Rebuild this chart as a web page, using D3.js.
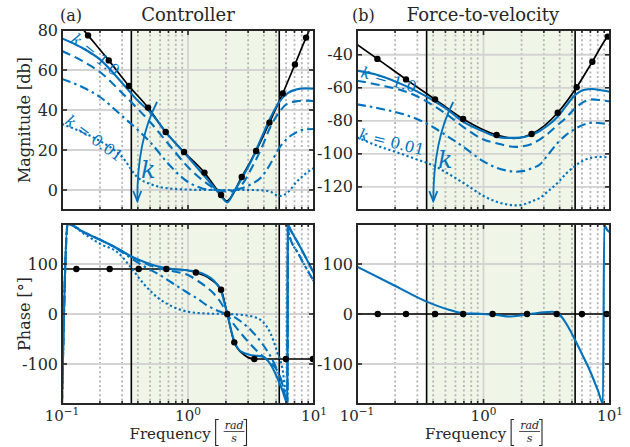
<!DOCTYPE html>
<html>
<head>
<meta charset="utf-8">
<title>Controller / force-to-velocity Bode plots</title>
<script src="https://cdn.jsdelivr.net/npm/d3@7/dist/d3.min.js"></script>
<style>
  body { margin: 0; background: #fff; }
  svg text { font-family: "DejaVu Serif", serif; fill: #262626; }
</style>
</head>
<body>
<script>
// ---- values ----
var bandLo = 0.355, bandHi = 5.3;   // shaded band [rad/s]

// (a) controller magnitude [db] for k = 1.0, two middle gains, k = 0.01
var ctrlMagF  = [0.1, 0.15, 0.2, 0.3, 0.4, 0.5, 0.7, 1.0, 1.3, 1.6, 1.8, 2.05, 2.3, 2.7, 3.2, 3.9, 4.5, 5.3, 6.2, 7.2, 8.5, 10];
var ctrlMagK1 = [75.8, 70.5, 65.3, 53.5, 44.6, 39, 27.3, 16.5, 8.2, 1.5, -2.5, -6.2, -1.2, 6.3, 15, 27.3, 36, 44, 48.5, 50.2, 50.8, 50.7];
var ctrlMagK2 = [69.5, 64, 59, 48.5, 40.5, 34, 23, 11.5, 5, 1, -0.3, -0.8, -0.5, 3, 11, 22, 31.5, 39, 43.3, 44.3, 44.7, 44.5];
var ctrlMagK3 = [55.5, 51, 46.5, 37, 30, 24, 13, 4, 0.8, 0, -0.2, -0.3, 0, 1, 3, 7, 13, 21, 26, 28.7, 30.3, 30.5];
var ctrlMagK4 = [33, 28.5, 24.5, 16.5, 6.2, 3, 0.8, 0.2, 0, 0, 0, 0, 0, 0, 0, -0.2, -0.8, -3, -1.2, 3.7, 8, 11];

// (a) reference (black) magnitude and which points carry a marker
var ctrlRefF    = [0.1, 0.161, 0.235, 0.34, 0.482, 0.665, 0.93, 1.35, 1.83, 2.02, 2.67, 3.47, 4.43, 5.65, 7.06, 8.65, 10];
var ctrlRefDb   = [93, 77.3, 64.8, 52, 41.2, 29, 19, 8.7, -2.5, -5.5, 6.5, 19.5, 33.7, 48.3, 62.8, 76.2, 85];
var ctrlRefDots = [1, 2, 3, 4, 5, 6, 7, 8, 10, 11, 12, 13, 14, 15];

// (a) controller phase [deg]
var ctrlPhF  = [0.1, 0.111, 0.15, 0.2, 0.28, 0.355, 0.45, 0.58, 0.75, 1.0, 1.2, 1.4, 1.6, 1.83, 2.05, 2.3, 2.6, 3.2, 3.9, 4.5, 5.1, 5.6, 6.15, 6.2, 6.3, 7.6, 10];
var ctrlPhK1 = [-178, 180, 163, 148.7, 130, 115, 104, 95, 90, 87, 84, 77, 67, 45, 0, -50, -74, -82.5, -85, -100, -127, -152, -178, 180, 176, 138.7, 81];
var ctrlPhK2 = [-178, 180, 163, 148.7, 130, 114.5, 102, 92, 86, 78, 66, 54, 41, 22, 0, -20, -37, -63, -84, -97, -113, -138, -178, 180, 176, 138.7, 81];
var ctrlPhK3 = [-178, 180, 163, 148.5, 129, 111, 95, 80, 62, 42, 30, 18, 10, 4, 0, -5, -14, -34, -60, -84, -112, -140, -176, 178, 162, 118.7, 65];
var ctrlPhK4 = [-178, 180, 160, 140.5, 122, 92, 59, 32, 15, 4.5, 2, 1, 0.5, 0.3, 0, -0.5, -1.5, -4.7, -15, -38, -75, -108, -175, 178, 162, 118.7, 65];

var ctrlRefPhF    = [0.1, 0.13, 0.239, 0.406, 0.673, 0.9, 1.155, 1.5, 1.83, 2.05, 2.33, 2.8, 3.36, 5.99, 9.8, 10];
var ctrlRefPh     = [90, 90, 90, 90, 90, 89, 83, 70, 48.7, 0, -56.7, -82, -90, -90, -90, -90];
var ctrlRefPhDots = [1, 2, 3, 4, 6, 8, 9, 10, 12, 13, 14];

// (b) force-to-velocity magnitude [db]
var plantMagF  = [0.1, 0.15, 0.244, 0.3, 0.414, 0.5, 0.69, 1.0, 1.27, 1.5, 1.8, 2.1, 2.4, 2.8, 3.2, 3.86, 4.5, 5.2, 6.2, 7.2, 8.5, 10];
var plantMagK1 = [-49.6, -52.5, -59, -62.3, -68.3, -72.3, -80.5, -86.5, -89.6, -90.3, -90.3, -89.8, -88.5, -86, -83, -77.5, -71, -65, -61.3, -60.7, -61.5, -62.4];
var plantMagK2 = [-55.7, -58.3, -62.4, -65.3, -71.4, -75.5, -83.6, -91.3, -93.6, -95, -95.8, -95.3, -94, -91.2, -88, -82.5, -78, -73, -68.5, -67, -67.5, -68.3];
var plantMagK3 = [-70, -72.5, -76.5, -79, -84.5, -88.5, -95.7, -104.5, -108.5, -110, -110.8, -110.3, -108.8, -106.3, -101, -93.3, -88.5, -85.2, -82.3, -81.1, -81.5, -82.3];
var plantMagK4 = [-90, -95.5, -101, -103.5, -107.5, -111, -117.5, -125.5, -129, -130.5, -131.2, -130.5, -128.8, -126.6, -123, -117.5, -112, -107.8, -104, -102.3, -101.8, -102.3];

var plantRefF    = [0.1, 0.145, 0.244, 0.414, 0.69, 1.27, 1.75, 2.4, 3.86, 5.45, 7.25, 9.6, 10];
var plantRefDb   = [-33.8, -42.5, -54.9, -67, -78.9, -88.6, -90.6, -88, -75.1, -59.7, -44.2, -29, -27.6];
var plantRefDots = [1, 2, 3, 4, 5, 7, 8, 9, 10, 11];

// (b) phase [deg] (all gains on top of each other)
var plantPhF = [0.1, 0.194, 0.355, 0.54, 0.69, 1.0, 1.27, 1.62, 2.0, 2.5, 3.0, 3.5, 3.9, 4.4, 5.14, 6.0, 6.9, 8.0, 8.8, 9.0, 9.5, 10];
var plantPh  = [94.7, 58, 24.7, 8, 1.5, 0, -2, -5, -2.5, 1, 3.5, 4.5, 1, -15, -45.3, -80, -112, -152, -178.7, 178, 168, 163];

var plantRefPhF    = [0.1, 0.146, 0.244, 0.414, 0.69, 1.18, 2.21, 3.79, 6.0, 9.4, 10];
var plantRefPh     = [0, 0, 0, 0, 0, 0, 0, 0, 0, 0, 0];
var plantRefPhDots = [1, 2, 3, 4, 5, 6, 7, 8, 9];

var magTicksA = [0, 20, 40, 60, 80];
var magTicksB = [-120, -100, -80, -60, -40];
var phTicks   = [-100, 0, 100];
var decades   = [0.1, 1, 10];
var decadeExp = ["\u22121", "0", "1"];
var minorF    = [0.2, 0.3, 0.4, 0.5, 0.6, 0.7, 0.8, 0.9, 2, 3, 4, 5, 6, 7, 8, 9];

// ---- drawing ----
var W = 630, H = 447;
var blue = "#0072bd", ink = "#262626";
var dashes = [null, "9,5", "9,4,2.5,4", "2.2,2.6"];

var svg = d3.select("body").append("svg")
    .attr("width", W)
    .attr("height", H);

var nClip = 0;

function panel(xr, yr, ydom, yticks) {
    var p = {xr: xr, yr: yr, yticks: yticks};
    p.x = d3.scaleLog().domain([0.1, 10]).range(xr);
    p.y = d3.scaleLinear().domain(ydom).range([yr[1], yr[0]]);
    var id = "clip" + (nClip++);
    svg.append("clipPath").attr("id", id).append("rect")
        .attr("x", xr[0]).attr("y", yr[0])
        .attr("width", xr[1] - xr[0]).attr("height", yr[1] - yr[0]);
    p.g = svg.append("g");
    p.plot = p.g.append("g").attr("clip-path", "url(#" + id + ")");

    p.plot.append("rect")
        .attr("x", p.x(bandLo)).attr("y", yr[0])
        .attr("width", p.x(bandHi) - p.x(bandLo))
        .attr("height", yr[1] - yr[0])
        .attr("fill", "#eff5e7");

    p.plot.selectAll(null).data(minorF).enter().append("line")
        .attr("x1", function(d) { return p.x(d); })
        .attr("x2", function(d) { return p.x(d); })
        .attr("y1", yr[0]).attr("y2", yr[1])
        .attr("stroke", "#b4b4b4").attr("stroke-width", 1.8)
        .attr("stroke-dasharray", "2,2.6");
    p.plot.selectAll(null).data(decades).enter().append("line")
        .attr("x1", function(d) { return p.x(d); })
        .attr("x2", function(d) { return p.x(d); })
        .attr("y1", yr[0]).attr("y2", yr[1])
        .attr("stroke", "#d3d3d3").attr("stroke-width", 1.8);
    p.plot.selectAll(null).data(yticks).enter().append("line")
        .attr("x1", xr[0]).attr("x2", xr[1])
        .attr("y1", function(d) { return p.y(d); })
        .attr("y2", function(d) { return p.y(d); })
        .attr("stroke", "#d3d3d3").attr("stroke-width", 1.8);
    p.plot.selectAll(null).data([bandLo, bandHi]).enter().append("line")
        .attr("x1", function(d) { return p.x(d); })
        .attr("x2", function(d) { return p.x(d); })
        .attr("y1", yr[0]).attr("y2", yr[1])
        .attr("stroke", "#000").attr("stroke-width", 1.6);
    return p;
}

function curve(p, fs, vs, dash, color, w) {
    var line = d3.line()
        .x(function(d) { return p.x(d[0]); })
        .y(function(d) { return p.y(d[1]); })
        .curve(d3.curveMonotoneX);
    p.plot.append("path")
        .datum(d3.zip(fs, vs))
        .attr("fill", "none")
        .attr("stroke", color)
        .attr("stroke-width", w)
        .attr("stroke-dasharray", dash)
        .attr("d", line);
}

function dots(p, fs, vs, idx) {
    p.plot.selectAll(null).data(idx).enter().append("circle")
        .attr("cx", function(i) { return p.x(fs[i]); })
        .attr("cy", function(i) { return p.y(vs[i]); })
        .attr("r", 3.2)
        .attr("fill", "#000");
}

function finish(p, xLabels) {
    var g = p.g, xr = p.xr, yr = p.yr;
    g.append("rect")
        .attr("x", xr[0]).attr("y", yr[0])
        .attr("width", xr[1] - xr[0]).attr("height", yr[1] - yr[0])
        .attr("fill", "none").attr("stroke", ink).attr("stroke-width", 2);
    // inward ticks on all four sides
    p.yticks.forEach(function(t) {
        var yy = p.y(t);
        g.append("line").attr("x1", xr[0]).attr("x2", xr[0] + 5).attr("y1", yy).attr("y2", yy)
            .attr("stroke", ink).attr("stroke-width", 1.6);
        g.append("line").attr("x1", xr[1] - 5).attr("x2", xr[1]).attr("y1", yy).attr("y2", yy)
            .attr("stroke", ink).attr("stroke-width", 1.6);
        g.append("text")
            .attr("x", xr[0] - 4).attr("y", yy).attr("dy", "0.35em")
            .attr("text-anchor", "end").attr("font-size", 16)
            .text(t);
    });
    decades.concat(minorF).forEach(function(f, i) {
        var xx = p.x(f), len = i < decades.length ? 5 : 3;
        g.append("line").attr("x1", xx).attr("x2", xx).attr("y1", yr[0]).attr("y2", yr[0] + len)
            .attr("stroke", ink).attr("stroke-width", 1.6);
        g.append("line").attr("x1", xx).attr("x2", xx).attr("y1", yr[1] - len).attr("y2", yr[1])
            .attr("stroke", ink).attr("stroke-width", 1.6);
    });
    if (xLabels) {
        decades.forEach(function(f, i) {
            var t = g.append("text")
                .attr("x", p.x(f)).attr("y", yr[1] + 17)
                .attr("text-anchor", "middle").attr("font-size", 15);
            t.append("tspan").text("10");
            t.append("tspan").attr("font-size", 10.5).attr("dy", -6).text(decadeExp[i]);
        });
        freqLabel(g, (xr[0] + xr[1]) / 2);
    }
}

function freqLabel(g, cx) {
    var lab = g.append("g");
    var t = lab.append("text").attr("x", 0).attr("y", 439).attr("font-size", 15).text("Frequency");
    var w = t.node().getComputedTextLength();
    var b0 = w + 5;
    lab.append("path")
        .attr("d", "M" + (b0 + 3) + ",419.5H" + b0 + "V445.5H" + (b0 + 3))
        .attr("fill", "none").attr("stroke", ink).attr("stroke-width", 1.1);
    var num = lab.append("text").attr("y", 429).attr("font-size", 11)
        .attr("font-style", "italic").attr("text-anchor", "middle").text("rad");
    var fw = num.node().getComputedTextLength();
    var fc = b0 + 9 + fw / 2;
    num.attr("x", fc);
    lab.append("line").attr("x1", fc - fw / 2 - 1).attr("x2", fc + fw / 2 + 1)
        .attr("y1", 431.5).attr("y2", 431.5).attr("stroke", ink).attr("stroke-width", 0.8);
    lab.append("text").attr("x", fc).attr("y", 442).attr("font-size", 11)
        .attr("font-style", "italic").attr("text-anchor", "middle").text("s");
    var b1 = fc + fw / 2 + 3;
    lab.append("path")
        .attr("d", "M" + (b1 - 3) + ",419.5H" + b1 + "V445.5H" + (b1 - 3))
        .attr("fill", "none").attr("stroke", ink).attr("stroke-width", 1.1);
    lab.attr("transform", "translate(" + (cx - b1 / 2) + ",0)");
}

function yLabel(text, cy) {
    svg.append("text")
        .attr("transform", "translate(30," + cy + ") rotate(-90)")
        .attr("text-anchor", "middle").attr("font-size", 16)
        .text(text);
}

function kLabel(p, f, v, angle, rest) {
    var t = p.g.append("text")
        .attr("transform", "translate(" + p.x(f) + "," + p.y(v) + ") rotate(" + angle + ")")
        .attr("font-size", 15.5).style("fill", blue);
    t.append("tspan").attr("font-style", "italic").text("k");
    t.append("tspan").text(rest);
}

function kArrow(p, a, c, b, lab) {
    var x0 = p.x(a[0]), y0 = p.y(a[1]);
    var xc = p.x(c[0]), yc = p.y(c[1]);
    var x1 = p.x(b[0]), y1 = p.y(b[1]);
    var path = d3.path();
    path.moveTo(x0, y0);
    path.quadraticCurveTo(xc, yc, x1, y1);
    p.g.append("path").attr("d", path.toString())
        .attr("fill", "none").attr("stroke", blue).attr("stroke-width", 1.8);
    var dx = x1 - xc, dy = y1 - yc, n = Math.sqrt(dx * dx + dy * dy);
    dx /= n; dy /= n;
    var L = 10, hw = 4;
    p.g.append("path")
        .attr("d", "M" + (x1 - L * dx - hw * dy) + "," + (y1 - L * dy + hw * dx) +
                   "L" + x1 + "," + y1 +
                   "L" + (x1 - L * dx + hw * dy) + "," + (y1 - L * dy - hw * dx))
        .attr("fill", "none").attr("stroke", blue).attr("stroke-width", 1.8);
    p.g.append("text")
        .attr("x", p.x(lab[0])).attr("y", p.y(lab[1]))
        .attr("font-size", 24).attr("font-style", "italic").style("fill", blue)
        .text("k");
}

// panels
var pA  = panel([62, 314], [30, 210], [-10, 80], magTicksA);
var pB  = panel([357, 610], [30, 210], [-134, -25], magTicksB);
var pAp = panel([62, 314], [224, 404], [-180, 180], phTicks);
var pBp = panel([357, 610], [224, 404], [-180, 180], phTicks);

// (a) magnitude
curve(pA, ctrlRefF, ctrlRefDb, null, "#000", 1.7);
[ctrlMagK1, ctrlMagK2, ctrlMagK3, ctrlMagK4].forEach(function(s, i) {
    curve(pA, ctrlMagF, s, dashes[i], blue, 2.1);
});
dots(pA, ctrlRefF, ctrlRefDb, ctrlRefDots);

// (b) magnitude
curve(pB, plantRefF, plantRefDb, null, "#000", 1.7);
[plantMagK1, plantMagK2, plantMagK3, plantMagK4].forEach(function(s, i) {
    curve(pB, plantMagF, s, dashes[i], blue, 2.1);
});
dots(pB, plantRefF, plantRefDb, plantRefDots);

// (a) phase
curve(pAp, ctrlRefPhF, ctrlRefPh, null, "#000", 1.7);
[ctrlPhK1, ctrlPhK2, ctrlPhK3, ctrlPhK4].forEach(function(s, i) {
    curve(pAp, ctrlPhF, s, dashes[i], blue, 2.1);
});
dots(pAp, ctrlRefPhF, ctrlRefPh, ctrlRefPhDots);

// (b) phase
curve(pBp, plantRefPhF, plantRefPh, null, "#000", 1.7);
curve(pBp, plantPhF, plantPh, null, blue, 2.1);
dots(pBp, plantRefPhF, plantRefPh, plantRefPhDots);

finish(pA, false);
finish(pB, false);
finish(pAp, true);
finish(pBp, true);

// annotations
kLabel(pA, 0.1157, 74.5, 39, " = 1.0");
kLabel(pA, 0.1037, 33.5, 36, " = 0.01");
kLabel(pB, 0.1056, -53.5, 16, " = 1.0");
kLabel(pB, 0.1018, -91.2, 14, " = 0.01");
kArrow(pA, [0.568, 44], [0.394, 25], [0.396, -5.5], [0.424, 6]);
kArrow(pB, [0.577, -68.6], [0.401, -91.6], [0.401, -128.6], [0.436, -108.6]);

// titles and axis names
svg.append("text").attr("x", 60).attr("y", 21).attr("font-size", 16).text("(a)");
svg.append("text").attr("x", 188).attr("y", 21).attr("font-size", 18)
    .attr("text-anchor", "middle").text("Controller");
svg.append("text").attr("x", 352).attr("y", 21).attr("font-size", 16).text("(b)");
svg.append("text").attr("x", 483).attr("y", 21).attr("font-size", 18)
    .attr("text-anchor", "middle").text("Force-to-velocity");
yLabel("Magnitude [db]", 120);
yLabel("Phase [\u00b0]", 314);
</script>
</body>
</html>
